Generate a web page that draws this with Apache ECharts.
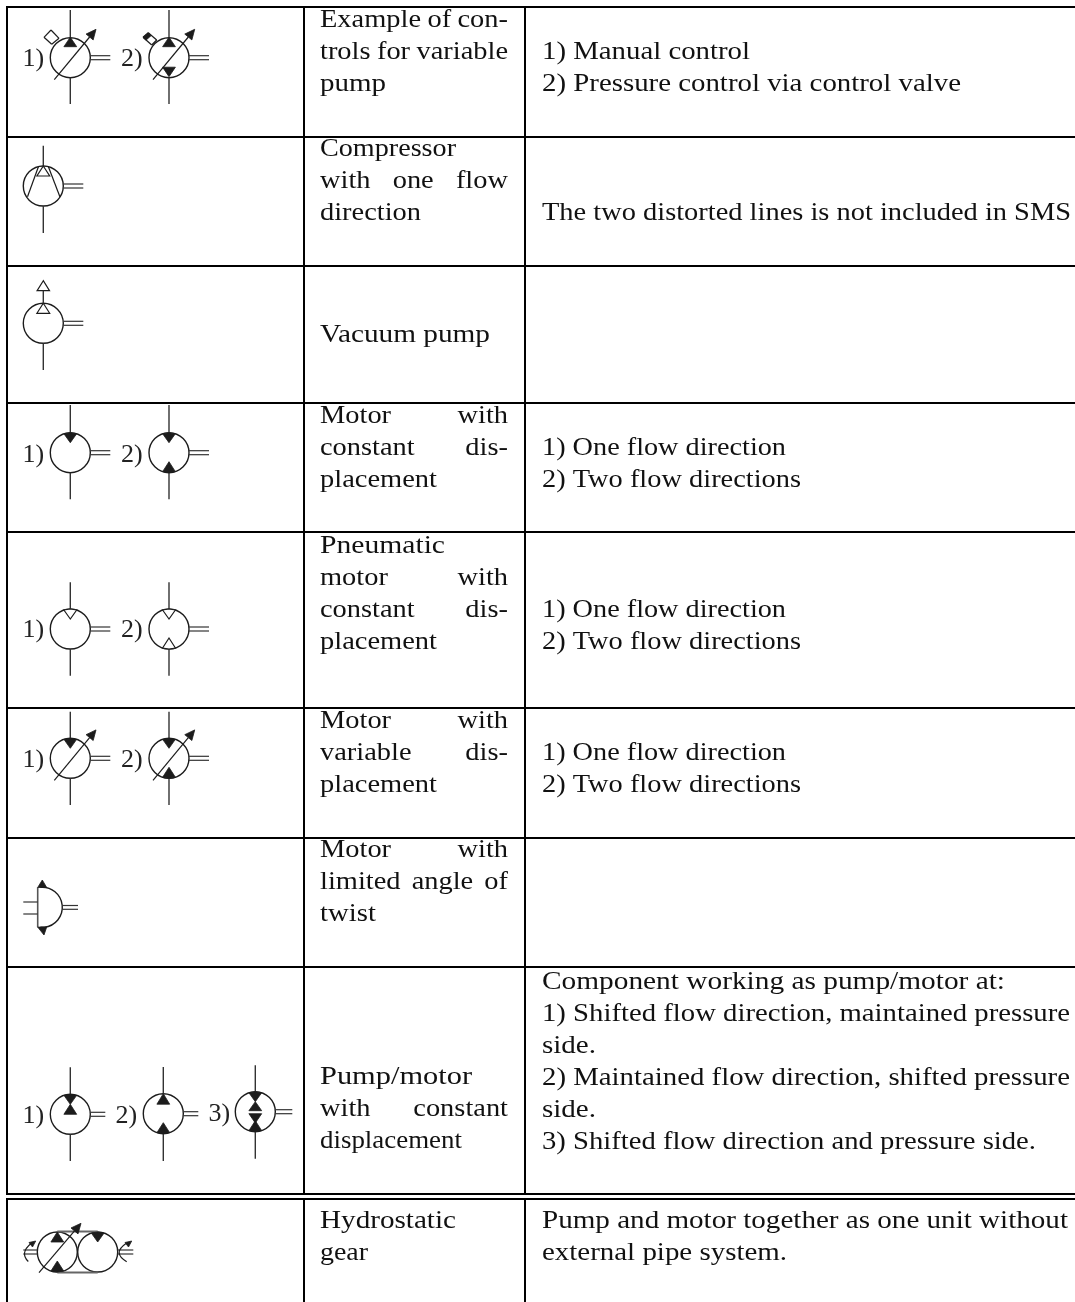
<!DOCTYPE html>
<html><head><meta charset="utf-8">
<style>html,body{margin:0;padding:0;background:#fff}#c{width:1075px;height:1302px}</style>
<script src="https://cdn.jsdelivr.net/npm/echarts@6/dist/echarts.min.js"></script>
</head><body><div id="c"></div>
<script>
// ---- table structure ----
const rowRules = [7, 137, 266, 403, 532, 708, 838, 967, 1194, 1199];
const columnRules = [7, 304, 525];
const columnSpans = [[6, 1195], [1198, 1302]];
// ---- text ----
const labelLines = [
  ["Example of con-", "trols for variable", "pump"],
  ["Compressor", "with one flow", "direction"],
  ["Vacuum pump"],
  ["Motor with", "constant dis-", "placement"],
  ["Pneumatic", "motor with", "constant dis-", "placement"],
  ["Motor with", "variable dis-", "placement"],
  ["Motor with", "limited angle of", "twist"],
  ["Pump/motor", "with constant", "displacement"],
  ["Hydrostatic", "gear"]
];
const labelBaselines = [26, 155, 341, 422, 552, 727, 856, 1083, 1227];
const justifiedLabels = ["Example of con-", "trols for variable", "with one flow", "Motor with", "motor with", "constant dis-", "variable dis-", "limited angle of", "with constant"];
const noteLines = [
  ["1) Manual control", "2) Pressure control via control valve"],
  ["The two distorted lines is not included in SMS"],
  ["1) One flow direction", "2) Two flow directions"],
  ["1) One flow direction", "2) Two flow directions"],
  ["1) One flow direction", "2) Two flow directions"],
  ["Component working as pump/motor at:", "1) Shifted flow direction, maintained pressure", "side.", "2) Maintained flow direction, shifted pressure", "side.", "3) Shifted flow direction and pressure side."],
  ["Pump and motor together as one unit without", "external pipe system."]
];
const noteBaselines = [58, 219, 454, 616, 759, 988, 1227];
// right-hand ends of the free-running lines
const lineEnds = {
  "pump": 386, "Compressor": 456, "direction": 421, "Vacuum pump": 490, "placement": 437, "Pneumatic": 445,
  "twist": 376, "Pump/motor": 472, "displacement": 462, "Hydrostatic": 456, "gear": 368,
  "1) Manual control": 750, "2) Pressure control via control valve": 961,
  "The two distorted lines is not included in SMS": 1071,
  "1) One flow direction": 786, "2) Two flow directions": 801,
  "Component working as pump/motor at:": 1005,
  "1) Shifted flow direction, maintained pressure": 1070, "side.": 596,
  "2) Maintained flow direction, shifted pressure": 1070,
  "3) Shifted flow direction and pressure side.": 1036,
  "Pump and motor together as one unit without": 1068, "external pipe system.": 787
};
const symbolTags = [
  ["1)", 22.5, 66], ["2)", 121, 66], ["1)", 22.5, 462], ["2)", 121, 462],
  ["1)", 22.5, 637], ["2)", 121, 637], ["1)", 22.5, 767], ["2)", 121, 767],
  ["1)", 22.5, 1123], ["2)", 115.5, 1123], ["3)", 208.5, 1121]
];
// ---- symbols: centre, stems, triangles [apex, base, filled] relative to centre ----
const UP_T = [-20.5, -11, 1], DOWN_T = [-10, -19, 1], UP_B = [9, 19, 1], DOWN_B = [19, 9.5, 1];
const UP_TO = [-20, -10, 0], DOWN_TO = [-10, -19, 0], UP_BO = [9, 19, 0];
const symbols = [
  {x: 70.3, y: 57.7, top: 10, bottom: 104, tail: 20, tris: [UP_T], variable: 1, control: 1},
  {x: 169, y: 57.7, top: 10, bottom: 104, tail: 20, tris: [UP_T, DOWN_B], variable: 1, control: 2},
  {x: 43.3, y: 186, top: 145.7, bottom: 233, tail: 20, tris: [UP_TO], compressor: 1},
  {x: 43.3, y: 323.3, top: 303.3, bottom: 370, tail: 20, tris: [UP_TO], vacuum: 1},
  {x: 70.3, y: 452.7, top: 405, bottom: 499.3, tail: 20, tris: [DOWN_T]},
  {x: 169, y: 452.7, top: 405, bottom: 499.3, tail: 20, tris: [DOWN_T, UP_B]},
  {x: 70.3, y: 629, top: 582.3, bottom: 675.7, tail: 20, tris: [DOWN_TO]},
  {x: 169, y: 629, top: 582.3, bottom: 675.7, tail: 20, tris: [DOWN_TO, UP_BO]},
  {x: 70.3, y: 758.3, top: 711.7, bottom: 805, tail: 20, tris: [DOWN_T], variable: 1},
  {x: 169, y: 758.3, top: 711.7, bottom: 805, tail: 20, tris: [DOWN_T, UP_B], variable: 1},
  {x: 70.3, y: 1114.3, top: 1067.3, bottom: 1161, tail: 15, tris: [DOWN_T, [-10, 0, 1]]},
  {x: 163.3, y: 1113.7, top: 1067, bottom: 1161, tail: 15, tris: [[-20, -9.5, 1], UP_B]},
  {x: 255.3, y: 1111.7, top: 1065.3, bottom: 1158.7, tail: 17, tris: [DOWN_T, [-10, -1, 1], [11.3, 2, 1], UP_B]}
];
const twistActuator = {x: 42.3, y: 907.3};
const hydroGear = {x1: 57.3, x2: 97.7, y: 1252};

const INK = '#1c1c1c', STEM = '#333';
const FONT_SIZE = 25, TAG_SIZE = 26, LINE_PITCH = 32, LABEL_L = 320, LABEL_R = 508, NOTE_L = 542, BASE_SHIFT = 2.5;
const FONT = FONT_SIZE + 'px "Liberation Serif"';
const measureCtx = document.createElement('canvas').getContext('2d');
measureCtx.font = FONT;
const textW = s => measureCtx.measureText(s).width;
const SX = 529 / textW(noteLines[1][0]);

// flat text list: x, baseline, text, horizontal stretch
const textRows = [];
const fit = (left, t) => (lineEnds[t] ? (lineEnds[t] - left) / textW(t) : SX);
labelLines.forEach((ls, i) => ls.forEach((t, j) => {
  const b = labelBaselines[i] + j * LINE_PITCH;
  if (justifiedLabels.includes(t)) {
    const ws = t.split(' ');
    const sum = ws.reduce((a, w) => a + textW(w) * SX, 0);
    const gap = (LABEL_R - LABEL_L - sum) / (ws.length - 1);
    let x = LABEL_L;
    ws.forEach(w => { textRows.push([x, b, w, SX]); x += textW(w) * SX + gap; });
  } else textRows.push([LABEL_L, b, t, fit(LABEL_L, t)]);
}));
noteLines.forEach((ls, i) => ls.forEach((t, j) => textRows.push([NOTE_L, noteBaselines[i] + j * LINE_PITCH, t, fit(NOTE_L, t)])));

function line(api, a, b, c, d, w, col) {
  const p = api.coord([a, b]), q = api.coord([c, d]);
  return {type: 'line', shape: {x1: p[0], y1: p[1], x2: q[0], y2: q[1]}, style: {stroke: col || INK, lineWidth: w || 1.2, fill: null}};
}
function poly(api, pts, filled) {
  return {type: 'polygon', shape: {points: pts.map(p => api.coord(p))},
    style: filled ? {fill: INK, stroke: INK, lineWidth: 0.8} : {fill: '#fff', stroke: INK, lineWidth: 1.2}};
}
function circle(api, x, y, r) {
  const p = api.coord([x, y]);
  return {type: 'circle', shape: {cx: p[0], cy: p[1], r: r}, style: {fill: null, stroke: INK, lineWidth: 1.4}};
}
function triangle(api, cx, cy, t) {
  const [a, b, f] = t, hw = 6.4;
  const pts = [[cx, cy + a], [cx - hw, cy + b]];
  if (Math.abs(b) >= 18.9) pts.push([cx, cy + Math.sign(b) * 20]);
  pts.push([cx + hw, cy + b]);
  return poly(api, pts, f);
}
function arrow(api, x0, y0, x1, y1, len, hw, w) {
  const L = Math.hypot(x1 - x0, y1 - y0), dx = (x1 - x0) / L, dy = (y1 - y0) / L;
  const bx = x1 - dx * len, by = y1 - dy * len;
  return [line(api, x0, y0, bx, by, w || 1.2),
    poly(api, [[x1, y1], [bx - dy * hw, by + dx * hw], [bx + dy * hw, by - dx * hw]], 1)];
}
function path(api, pts) {
  const k = [];
  for (let i = 0; i + 1 < pts.length; i++) k.push(line(api, pts[i][0], pts[i][1], pts[i + 1][0], pts[i + 1][1]));
  return k;
}
function drawSymbol(api, s) {
  const k = [], x = s.x, y = s.y;
  k.push(circle(api, x, y, 20));
  k.push(line(api, x, s.top, x, y - 20, 1.4, STEM));
  k.push(line(api, x, y + 20, x, s.bottom, 1.4, STEM));
  k.push(line(api, x + 20, y - 2, x + 20 + s.tail, y - 2, 1.2, STEM));
  k.push(line(api, x + 20, y + 2, x + 20 + s.tail, y + 2, 1.2, STEM));
  s.tris.forEach(t => k.push(triangle(api, x, y, t)));
  if (s.variable) k.push(...arrow(api, x - 16, y + 22, x + 25.7, y - 28.4, 10, 4.6));
  if (s.control === 1) {
    k.push(...path(api, [[x - 11.3, y - 19.4], [x - 19.3, y - 27.7], [x - 26.3, y - 20.4], [x - 18.6, y - 13.4], [x - 11.3, y - 19.4]]));
  }
  if (s.control === 2) {
    k.push(...path(api, [[x - 12.3, y - 17.7], [x - 20.7, y - 25], [x - 26, y - 20.4], [x - 17.3, y - 12.7], [x - 12.3, y - 17.7]]));
    k.push(poly(api, [[x - 26, y - 20.4], [x - 20.7, y - 25], [x - 18, y - 22], [x - 23, y - 17.5]], 1));
  }
  if (s.compressor) {
    k.push(line(api, x - 4.8, y - 19.5, x - 15.8, y + 10.7), line(api, x + 5, y - 19.5, x + 16.7, y + 11));
  }
  if (s.vacuum) {
    k.push(poly(api, [[x, y - 42.6], [x - 6.2, y - 32.6], [x + 6.2, y - 32.6]], 0));
    k.push(line(api, x, y - 32.6, x, y - 20, 1.4, STEM));
  }
  return k;
}
function drawTwist(api, s) {
  const x = s.x, y = s.y, p = api.coord([x, y]);
  return [
    {type: 'arc', shape: {cx: p[0], cy: p[1], r: 20, startAngle: -Math.PI / 2 - 0.1, endAngle: Math.PI / 2 + 0.1, clockwise: true}, style: {fill: null, stroke: INK, lineWidth: 1.4}},
    line(api, x - 4.6, y - 20, x - 4.6, y + 20, 1.6, '#555'),
    line(api, x - 19, y - 5.3, x - 4.6, y - 5.3, 1.2, STEM), line(api, x - 19, y + 6.7, x - 4.6, y + 6.7, 1.2, STEM),
    line(api, x + 20, y - 1.8, x + 35.7, y - 1.8, 1.2, STEM), line(api, x + 20, y + 2, x + 35.7, y + 2, 1.2, STEM),
    poly(api, [[x, y - 27.3], [x - 4.6, y - 19.8], [x + 4.4, y - 19.8]], 1),
    poly(api, [[x + 1.7, y + 27.7], [x - 4.6, y + 19.8], [x + 4.4, y + 19.8]], 1)
  ];
}
function curl(api, a, b, c, d, e, f) {
  const p = api.coord([a, b]), q = api.coord([c, d]), m = api.coord([e, f]);
  return {type: 'bezierCurve', shape: {x1: p[0], y1: p[1], x2: q[0], y2: q[1], cpx1: m[0], cpy1: m[1]}, style: {fill: null, stroke: INK, lineWidth: 1.2}};
}
function drawGear(api, s) {
  const y = s.y, a = s.x1, b = s.x2, k = [circle(api, a, y, 20), circle(api, b, y, 20)];
  k.push(line(api, a, y - 20.5, b, y - 20.5, 2, '#666'), line(api, a, y + 20.5, b, y + 20.5, 2, '#666'));
  k.push(triangle(api, a, y, [-20, -10, 1]), triangle(api, a, y, UP_B), triangle(api, b, y, DOWN_T));
  k.push(...arrow(api, a - 18.3, y + 20.7, a + 23.7, y - 28.7, 10, 4.6));
  [-2, 2].forEach(d => {
    k.push(line(api, 23.3, y + d, a - 20, y + d, 1.2, STEM));
    k.push(line(api, b + 20, y + d, 133.3, y + d, 1.2, STEM));
  });
  k.push(curl(api, 28.3, y + 9.5, 31, y - 8.5, 19.5, y + 1), poly(api, [[35.7, y - 11], [29, y - 9.5], [32.5, y - 5]], 1));
  k.push(curl(api, 126.7, y + 9.7, 126, y - 8.5, 112, y + 1), poly(api, [[131.7, y - 11], [125, y - 9.5], [128.5, y - 5]], 1));
  return k;
}

const custom = o => Object.assign({type: 'custom', coordinateSystem: 'cartesian2d', silent: true, clip: false, animation: false, encode: {x: 0, y: 1}}, o);
const series = [
  custom({data: symbols.map((s, i) => [s.x, s.y, i]),
    renderItem: (p, api) => ({type: 'group', children: drawSymbol(api, symbols[api.value(2)])})}),
  custom({data: [[twistActuator.x, twistActuator.y]],
    renderItem: (p, api) => ({type: 'group', children: drawTwist(api, twistActuator)})}),
  custom({data: [[hydroGear.x1, hydroGear.y]],
    renderItem: (p, api) => ({type: 'group', children: drawGear(api, hydroGear)})}),
  custom({data: textRows.map((t, i) => [t[0], t[1], i]),
    renderItem: (p, api) => {
      const c = api.coord([api.value(0), api.value(1) - 0.3375 * FONT_SIZE + BASE_SHIFT]), r = textRows[api.value(2)];
      return {type: 'text', x: c[0], y: c[1], scaleX: r[3],
        style: {text: r[2], font: FONT, fill: '#111', align: 'left', verticalAlign: 'middle'}};
    }}),
  custom({data: symbolTags.map((t, i) => [t[1], t[2], i]),
    renderItem: (p, api) => {
      const c = api.coord([api.value(0), api.value(1) - 0.3375 * TAG_SIZE + 1.5]);
      return {type: 'text', x: c[0], y: c[1],
        style: {text: symbolTags[api.value(2)][0], font: TAG_SIZE + 'px "Liberation Serif"', fill: '#222', align: 'left', verticalAlign: 'middle'}};
    }}),
  // the rules sit above the text, which runs into them at the top of some cells
  custom({data: rowRules.map(y => [0, y]),
    renderItem: (p, api) => ({type: 'group', children: [line(api, 6, api.value(1), 1075, api.value(1), 2, '#000')]})}),
  custom({data: columnRules.flatMap(x => columnSpans.map(s => [x, s[0], s[1]])),
    renderItem: (p, api) => ({type: 'group', children: [line(api, api.value(0), api.value(1), api.value(0), api.value(2), 2, '#000')]})})
];

const chart = echarts.init(document.getElementById('c'), null, {renderer: 'canvas'});
chart.setOption({
  animation: false, backgroundColor: '#fff',
  grid: {left: 0, right: 0, top: 0, bottom: 0},
  xAxis: {type: 'value', min: 0, max: 1075, show: false},
  yAxis: {type: 'value', min: 0, max: 1302, inverse: true, show: false},
  tooltip: {show: false}, legend: {show: false},
  series: series
});
</script></body></html>
